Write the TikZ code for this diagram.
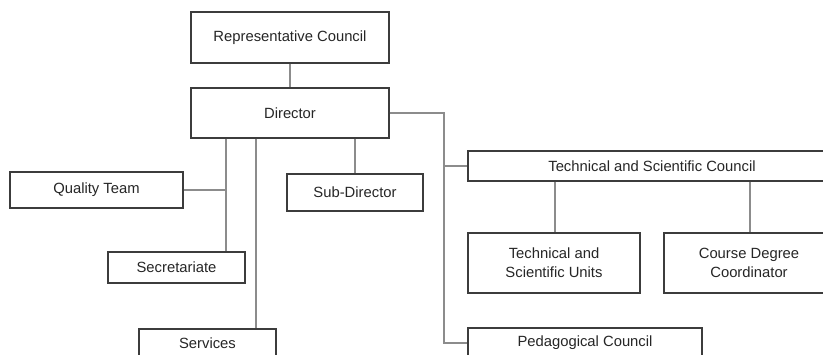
\documentclass[tikz,border=0pt]{standalone}
\usepackage{fontspec}
\setmainfont{Liberation Sans}
\definecolor{boxline}{HTML}{3C3C3C}
\definecolor{linkline}{HTML}{8C8C8C}
\definecolor{labeltext}{HTML}{262626}
\tikzset{
  unit/.style={x=0.75pt,y=-0.75pt},
  orgbox/.style={draw=boxline,line width=1.1pt,fill=white,inner sep=0pt,
    align=center,text=labeltext,font=\fontsize{11.1}{14.2}\selectfont},
  link/.style={draw=linkline,line width=0.8pt}
}
% box from its corners (x1,y1)-(x2,y2), given in pixel units
\newcommand{\orgunit}[6]{%
  \pgfmathsetmacro\unitcx{(#2+#4)/2}%
  \pgfmathsetmacro\unitcy{(#3+#5)/2}%
  \pgfmathsetmacro\unitw{(#4-#2)*0.75}%
  \pgfmathsetmacro\unith{(#5-#3)*0.75}%
  \node[orgbox,minimum width=\unitw pt,minimum height=\unith pt] (#1)
    at (\unitcx,\unitcy) {#6};}
\begin{document}
\begin{tikzpicture}[unit]
\useasboundingbox (0,0) rectangle (823,354);
\clip (0,0) rectangle (823,354);
\fill[white] (0,0) rectangle (823,354);

% branch columns of the connectors
\coordinate (colA) at (226,0);
\coordinate (colB) at (256,0);
\coordinate (colC) at (355,0);
\coordinate (colD) at (444,0);
\coordinate (colE) at (555,0);
\coordinate (colF) at (750,0);

% units
\orgunit{rep}{191}{12}{389}{63}{Representative Council}
\orgunit{dir}{191}{88}{389}{138}{Director}
\orgunit{qt}{10}{172}{183}{208}{Quality Team}
\orgunit{sec}{108}{252}{245}{283}{Secretariate}
\orgunit{srv}{139}{329}{276}{357}{Services}
\orgunit{sub}{287}{174}{423}{211}{Sub-Director}
\orgunit{tsc}{468}{151}{836}{181}{Technical and Scientific Council}
\orgunit{tsu}{468}{233}{640}{293}{Technical and\\Scientific Units}
\orgunit{cdc}{664}{233}{834}{293}{Course Degree\\Coordinator}
\orgunit{ped}{468}{328}{702}{358}{Pedagogical Council}

% hierarchy links
\draw[link] (rep.south) -- (dir.north);
\draw[link] (colA |- dir.south) -- (colA |- sec.north);
\draw[link] (qt.east) -- (colA |- qt.east);
\draw[link] (colB |- dir.south) -- (colB |- srv.north);
\draw[link] (colC |- dir.south) -- (colC |- sub.north);
\draw[link] (dir.east) -- (colD |- dir.east) -- (colD |- ped.west) -- (ped.west);
\draw[link] (colD |- tsc.west) -- (tsc.west);
\draw[link] (colE |- tsc.south) -- (colE |- tsu.north);
\draw[link] (colF |- tsc.south) -- (colF |- cdc.north);
\end{tikzpicture}
\end{document}
